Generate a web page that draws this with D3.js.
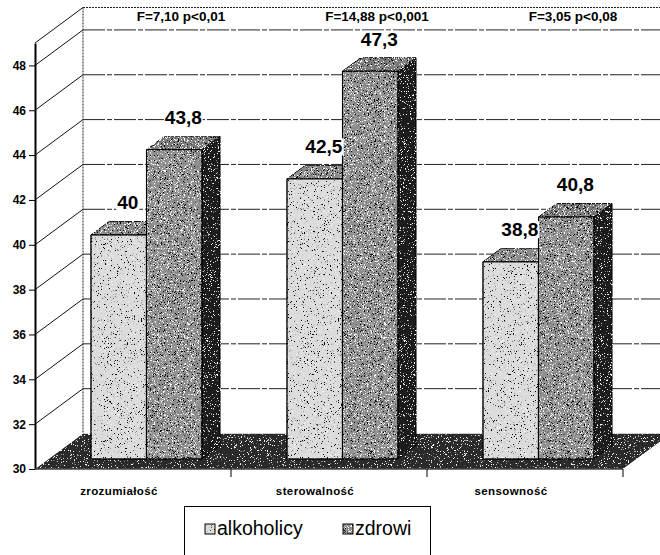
<!DOCTYPE html>
<html>
<head>
<meta charset="utf-8">
<script src="https://cdn.jsdelivr.net/npm/d3@7"></script>
<style>
  html, body { margin: 0; padding: 0; background: #fff; }
  svg { display: block; font-family: "Liberation Sans", Arial, sans-serif; }
</style>
</head>
<body>
<svg id="chart" width="660" height="555"></svg>
<script>
// Data
const categories = ["zrozumiałość", "sterowalność", "sensowność"];
const seriesNames = ["alkoholicy", "zdrowi"];
const alkoholicy = [40, 42.5, 38.8];
const zdrowi = [43.8, 47.3, 40.8];
const valueTicks = [30, 32, 34, 36, 38, 40, 42, 44, 46, 48];
const statLabels = ["F=7,10 p<0,01", "F=14,88 p<0,001", "F=3,05 p<0,08"];

const seriesValues = [alkoholicy, zdrowi];
const svg = d3.select("#chart");

// Oblique 3-D projection: depth 0 = front plane, depth 1 = back wall
const DEPTH_X = 48, DEPTH_Y = -35.5;
const off = d => [DEPTH_X * d, DEPTH_Y * d];

const y = d3.scaleLinear().domain([30, 49]).range([469, 43]);
const xCat = d3.scaleBand().domain(categories).range([35, 623]);
const xSer = d3.scaleBand().domain(seriesNames).range([0, xCat.bandwidth()])
  .paddingInner(0).paddingOuter(0.766);

const BAR_D0 = 0.28, BAR_D1 = 0.66;

// Stipple textures: black specks where noise is low, white specks where it is high
const defs = svg.append("defs");
function stipple(id, blackCut, whiteCut, seed) {
  const f = defs.append("filter").attr("id", id)
    .attr("x", 0).attr("y", 0).attr("width", 1).attr("height", 1);
  f.append("feTurbulence").attr("type", "fractalNoise").attr("baseFrequency", 1.3)
    .attr("numOctaves", 2).attr("seed", seed).attr("result", "n");
  f.append("feColorMatrix").attr("in", "n").attr("type", "matrix")
    .attr("values", `0 0 0 0 0  0 0 0 0 0  0 0 0 0 0  -12 0 0 0 ${12 * blackCut}`).attr("result", "blk");
  f.append("feColorMatrix").attr("in", "n").attr("type", "matrix")
    .attr("values", `0 0 0 0 1  0 0 0 0 1  0 0 0 0 1  0 12 0 0 ${-12 * whiteCut}`).attr("result", "wht");
  const m = f.append("feMerge").attr("result", "m");
  m.append("feMergeNode").attr("in", "SourceGraphic");
  m.append("feMergeNode").attr("in", "blk");
  m.append("feMergeNode").attr("in", "wht");
  f.append("feComposite").attr("in", "m").attr("in2", "SourceAlpha").attr("operator", "in");
}
stipple("grainLight", 0.36, 0.70, 3);
stipple("grainMid", 0.40, 0.60, 5);
stipple("grainDark", 0.20, 0.64, 9);

const faceFill = {
  alkoholicy: { front: ["#dcdcdc", "grainLight"], top: ["#8c8c8c", "grainMid"], side: ["#555", "grainMid"] },
  zdrowi:     { front: ["#909090", "grainMid"], top: ["#7c7c7c", "grainMid"], side: ["#1a1a1a", "grainDark"] }
};
const paint = (sel, spec) => sel.attr("fill", spec[0]).attr("filter", `url(#${spec[1]})`);

// Floor
const [bx, by] = off(1);
paint(svg.append("polygon")
  .attr("points", [[35, y(30)], [623, y(30)], [623 + bx, y(30) + by], [35 + bx, y(30) + by]].join(" ")),
  ["#2c2c2c", "grainDark"]);

// Back wall grid lines
const grid = svg.append("g");
valueTicks.filter(t => t > 30).forEach(t => {
  grid.append("line")
    .attr("x1", 35 + bx).attr("x2", 700)
    .attr("y1", y(t) + by).attr("y2", y(t) + by)
    .attr("stroke", "#222").attr("stroke-width", 1)
    .attr("stroke-dasharray", "22,2,5,2");
});
// Back wall top edge and left edge (dotted)
grid.append("line").attr("x1", 35 + bx).attr("x2", 700)
  .attr("y1", y(49) + by).attr("y2", y(49) + by)
  .attr("stroke", "#222").attr("stroke-dasharray", "2,1");
grid.append("line").attr("x1", 35 + bx).attr("x2", 35 + bx)
  .attr("y1", y(49) + by).attr("y2", y(30) + by)
  .attr("stroke", "#222").attr("stroke-dasharray", "2,1");
// Side wall lines
valueTicks.filter(t => t > 30).concat([49]).forEach(t => {
  grid.append("line")
    .attr("x1", 35).attr("y1", y(t))
    .attr("x2", 35 + bx).attr("y2", y(t) + by)
    .attr("stroke", "#111").attr("stroke-width", 1);
});

// Bars
const [fx, fy] = off(BAR_D0);
const [ddx, ddy] = [DEPTH_X * (BAR_D1 - BAR_D0), DEPTH_Y * (BAR_D1 - BAR_D0)];
const bw = xSer.bandwidth();
const bars = svg.append("g");
const labelSpecs = [];
categories.forEach((c, ci) => {
  seriesNames.forEach((s, si) => {
    const v = seriesValues[si][ci];
    const x = xCat(c) + xSer(s) + fx;
    const yt = y(v) + fy, yb = y(30) + fy;
    const g = bars.append("g").attr("stroke", "#000").attr("stroke-width", 1)
      .attr("stroke-linejoin", "round");
    paint(g.append("polygon")
      .attr("points", [[x + bw, yt], [x + bw + ddx, yt + ddy], [x + bw + ddx, yb + ddy], [x + bw, yb]].join(" ")),
      faceFill[s].side);
    paint(g.append("polygon")
      .attr("points", [[x, yt], [x + bw, yt], [x + bw, yb], [x, yb]].join(" ")),
      faceFill[s].front);
    paint(g.append("polygon")
      .attr("points", [[x, yt], [x + ddx, yt + ddy], [x + bw + ddx, yt + ddy], [x + bw, yt]].join(" ")),
      faceFill[s].top);
    g.append("polygon")
      .attr("points", [[x, yt], [x + bw, yt], [x + bw, yb], [x, yb]].join(" "))
      .attr("fill", "none");
    labelSpecs.push({ v, x: x + bw / 2 + ddx / 2, y: yt + ddy - 12 });
  });
});

// Value labels with white backing
const fmt = v => String(v).replace(".", ",");
const labels = svg.append("g");
labelSpecs.forEach(d => {
  const t = labels.append("text")
    .attr("x", d.x).attr("y", d.y)
    .attr("text-anchor", "middle")
    .attr("font-size", 19).attr("font-weight", "bold")
    .text(fmt(d.v));
  const bb = t.node().getBBox();
  labels.insert("rect", () => t.node())
    .attr("x", bb.x - 1).attr("y", bb.y + 2)
    .attr("width", bb.width + 2).attr("height", bb.height - 4)
    .attr("fill", "#fff");
});

// Statistics above each group
statLabels.forEach((s, i) => {
  svg.append("text")
    .attr("x", xCat(categories[i]) + xCat.bandwidth() / 2 + bx)
    .attr("y", 21)
    .attr("text-anchor", "middle")
    .attr("font-size", 13.5).attr("font-weight", "bold")
    .text(s);
});

// Value axis on the front plane
const yAxis = svg.append("g").attr("transform", "translate(35,0)")
  .call(d3.axisLeft(y).tickValues(valueTicks).tickSize(6).tickSizeOuter(0).tickPadding(3));
yAxis.select(".domain").attr("stroke", "#000").attr("stroke-width", 2);
yAxis.selectAll(".tick line").attr("stroke", "#000");
yAxis.selectAll(".tick text")
  .attr("font-family", "Liberation Sans, Arial, sans-serif")
  .attr("font-size", 12).attr("font-weight", "bold").attr("fill", "#000");

// Category axis along the floor front edge
const xAxis = svg.append("g");
xAxis.append("line").attr("x1", 35).attr("x2", 623)
  .attr("y1", y(30)).attr("y2", y(30)).attr("stroke", "#444").attr("stroke-width", 1.5);
categories.forEach(c => {
  const xe = xCat(c) + xCat.bandwidth();
  xAxis.append("line").attr("x1", xe).attr("x2", xe)
    .attr("y1", y(30)).attr("y2", y(30) + 8).attr("stroke", "#000");
  xAxis.append("text")
    .attr("x", xCat(c) + xCat.bandwidth() / 2 - 14)
    .attr("y", 495)
    .attr("text-anchor", "middle")
    .attr("font-size", 11.5).attr("font-weight", "bold")
    .attr("letter-spacing", 0.4)
    .text(c);
});

// Legend
const legend = svg.append("g");
legend.append("rect").attr("x", 184.5).attr("y", 506.5).attr("width", 246).attr("height", 70)
  .attr("fill", "#fff").attr("stroke", "#000");
const legendX = [205, 343];
seriesNames.forEach((s, i) => {
  paint(legend.append("rect").attr("x", legendX[i]).attr("y", 524).attr("width", 10).attr("height", 10),
    faceFill[s].front);
  legend.append("rect").attr("x", legendX[i]).attr("y", 524).attr("width", 10).attr("height", 10)
    .attr("fill", "none").attr("stroke", "#000");
  legend.append("text").attr("x", legendX[i] + 12).attr("y", 535)
    .attr("font-size", 19.5).text(s);
});
</script>
</body>
</html>
